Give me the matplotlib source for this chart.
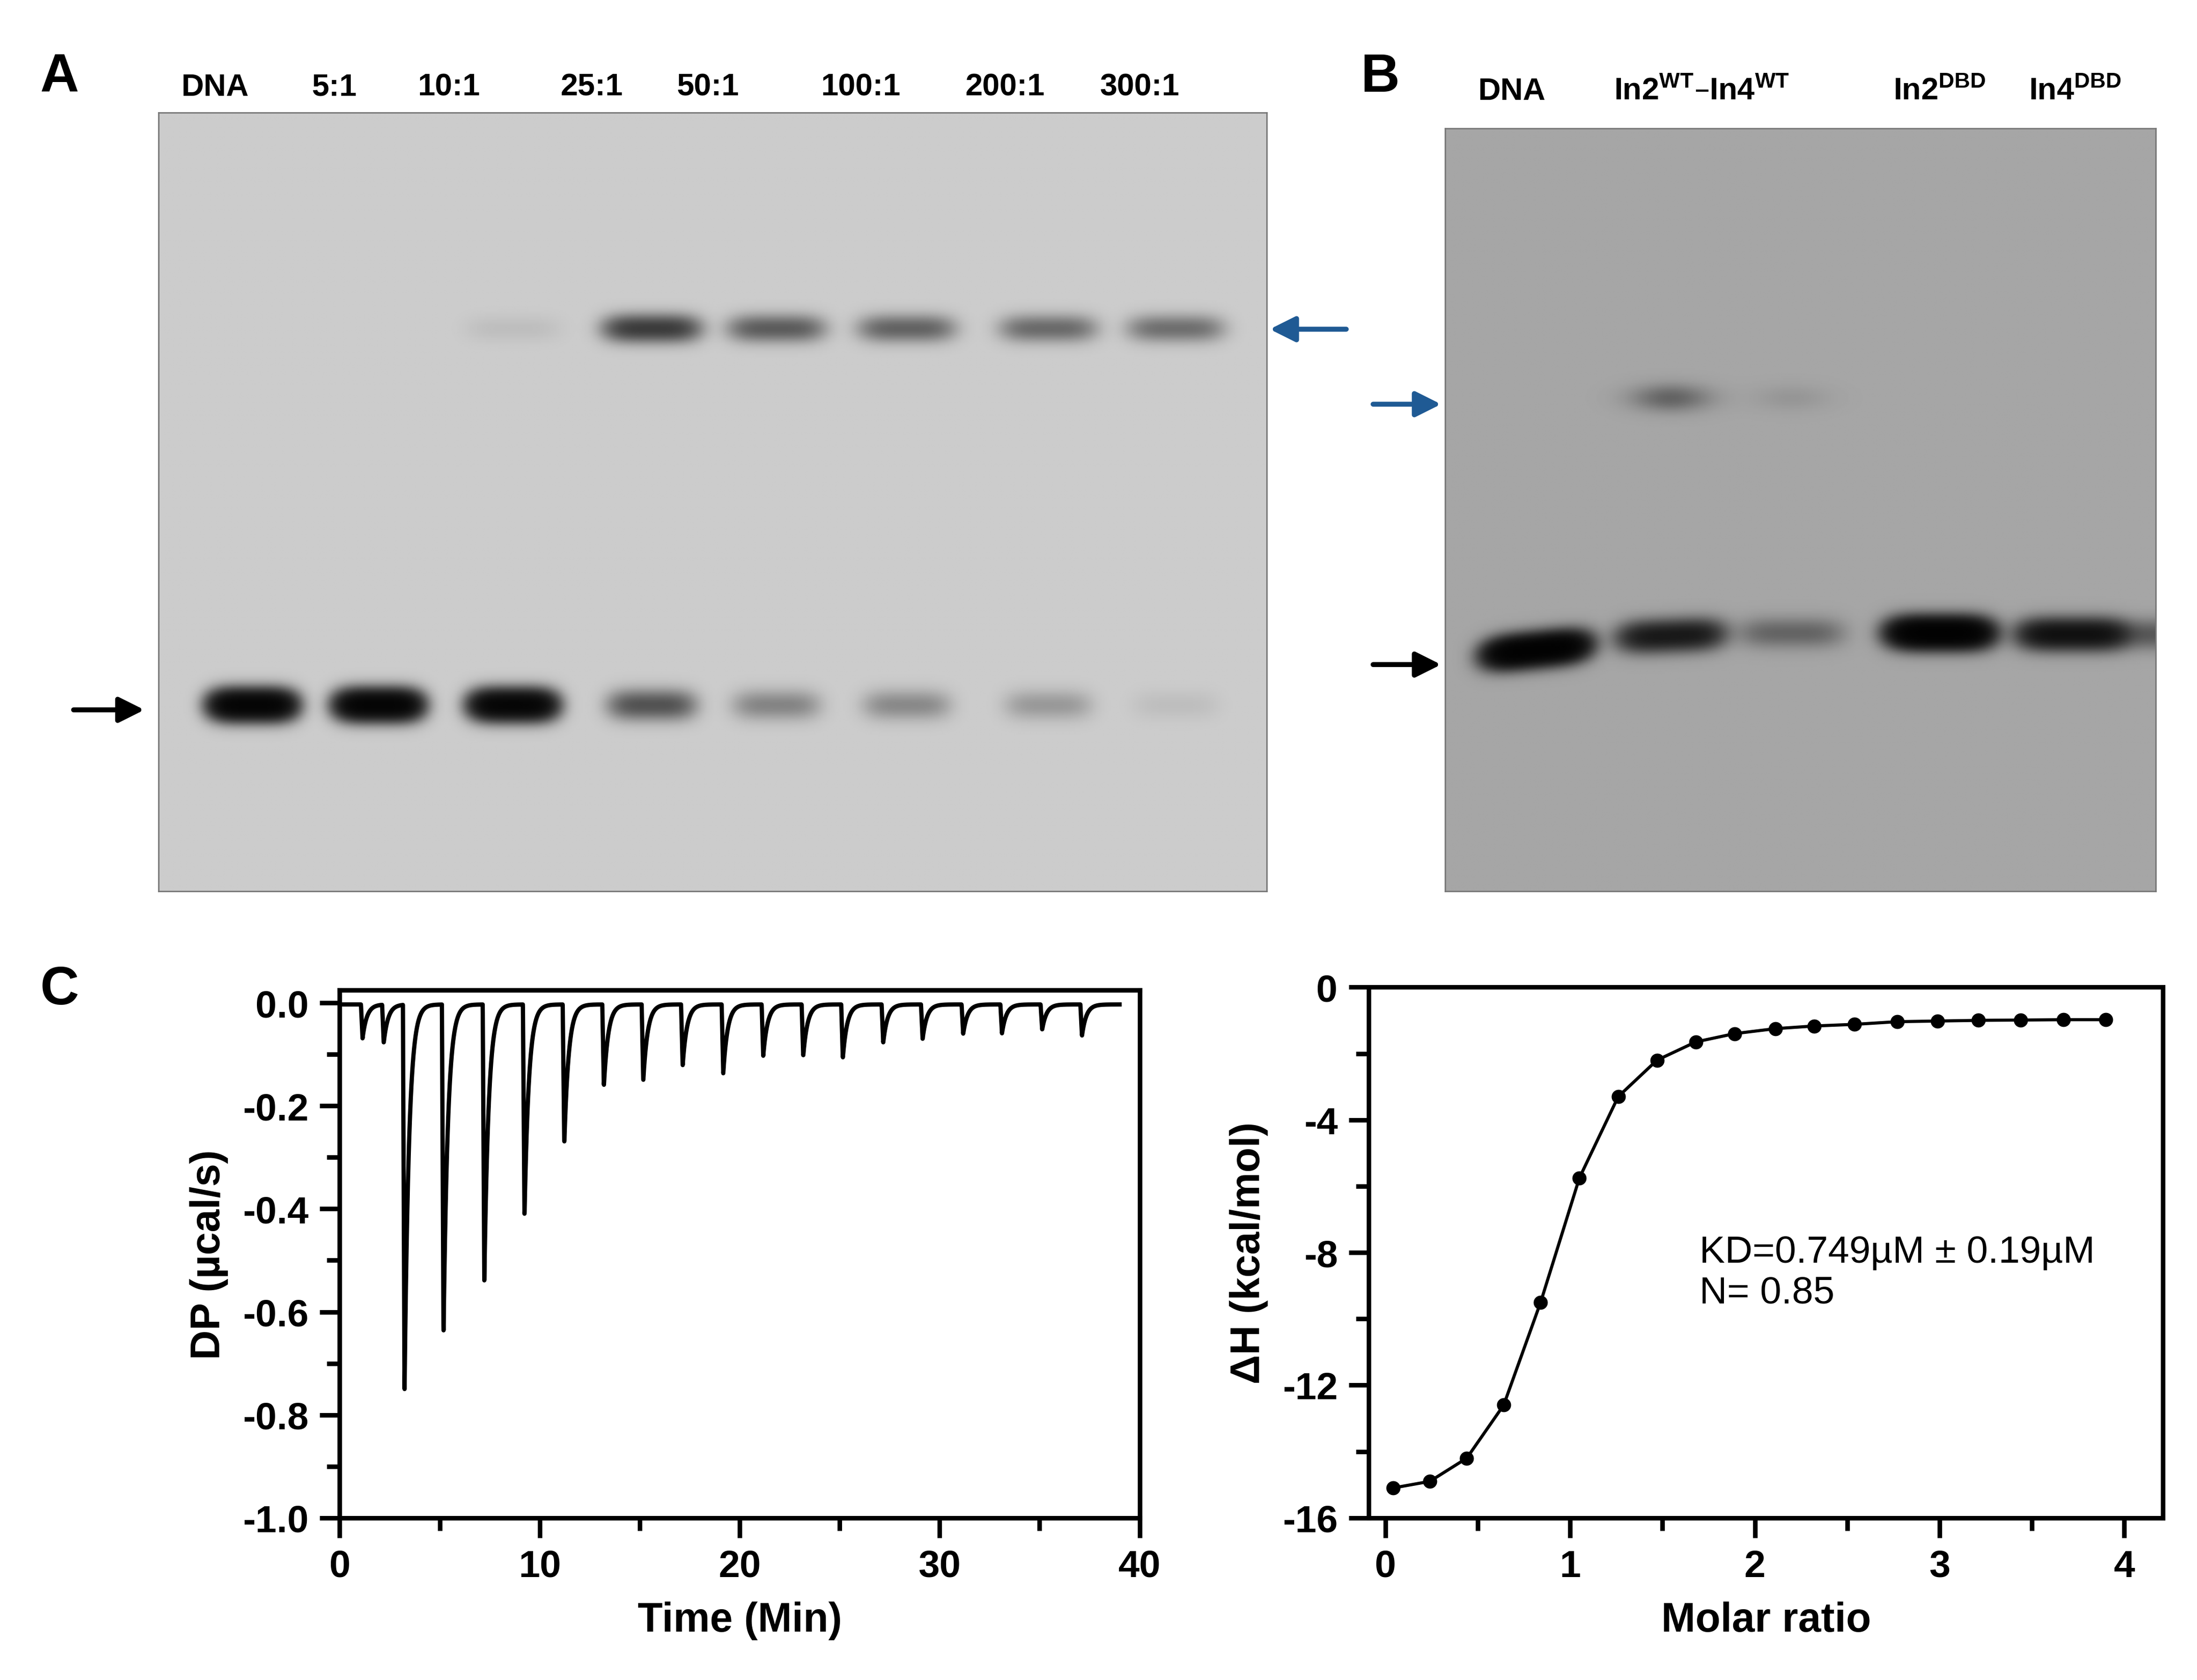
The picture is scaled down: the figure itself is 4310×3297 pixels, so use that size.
import numpy as np
import matplotlib
matplotlib.use("Agg")
import matplotlib.pyplot as plt
from matplotlib.ticker import MultipleLocator

plt.rcParams['font.family'] = ['Liberation Sans', 'DejaVu Sans']

# ---------------- data ----------------
# Gel A
gelA_lanes = ["DNA", "5:1", "10:1", "25:1", "50:1", "100:1", "200:1", "300:1"]
gelA_lane_x = [66, 155, 250, 348, 436, 528, 628, 718]          # lane centres (gel px)
gelA_free = [1.0, 1.0, 0.95, 0.25, 0.12, 0.11, 0.08, 0.02]      # free DNA intensity
gelA_complex = [0.0, 0.0, 0.05, 0.85, 0.55, 0.50, 0.45, 0.42]  # complex intensity
# Gel B
gelB_lanes = ["DNA", "In2$^{\\mathregular{WT}}$–In4$^{\\mathregular{WT}}$", "In2$^{\\mathregular{DBD}}$", "In4$^{\\mathregular{DBD}}$"]
gelB_band_x = [64, 159, 244, 349, 441, 502]
gelB_free = [1.0, 0.45, 0.12, 1.0, 0.55, 0.15]
gelB_complex = [0.0, 0.30, 0.06, 0.0, 0.0, 0.0]

# ITC raw
inj_time = [1.06, 2.12, 3.16, 5.11, 7.15, 9.16, 11.15, 13.13, 15.10, 17.07,
            19.10, 21.10, 23.10, 25.08, 27.10, 29.07, 31.10, 33.04, 35.05, 37.04]
inj_depth = [-0.066, -0.074, -0.754, -0.640, -0.537, -0.410, -0.270, -0.158, -0.148, -0.119,
             -0.134, -0.100, -0.100, -0.104, -0.074, -0.067, -0.057, -0.056, -0.049, -0.061]
# ITC integrated
molar_ratio = [0.04, 0.24, 0.44, 0.64, 0.84, 1.05, 1.26, 1.47, 1.68, 1.89,
               2.11, 2.32, 2.54, 2.77, 2.99, 3.21, 3.44, 3.67, 3.90]
dH = [-15.1, -14.9, -14.2, -12.6, -9.5, -5.75, -3.3, -2.2, -1.65, -1.4,
      -1.25, -1.17, -1.12, -1.04, -1.02, -1.0, -0.99, -0.98, -0.98]

W, H = 4310, 3298
S = W / 1552.0
fig = plt.figure(figsize=(W / 200, H / 200), dpi=200)

def fax(x0, y0, x1, y1):
    return fig.add_axes([x0 * S / W, 1 - y1 * S / H, (x1 - x0) * S / W, (y1 - y0) * S / H])

def gel_image(w, h, bg, lanes_x, free, comp, y_free, y_comp, sx, sy, dark, slant=None, csx=None):
    yy, xx = np.mgrid[0:h, 0:w].astype(float)
    dens = np.zeros((h, w))
    for i, (x, a, b) in enumerate(zip(lanes_x, free, comp)):
        yf = y_free if np.isscalar(y_free) else y_free[i]
        if a > 0:
            off = 0 if slant is None else slant[i] * (xx - x)
            g = np.exp(-(((xx - x) / sx) ** 4) - (((yy - yf - off) / sy) ** 2))
            dens += a * 3.0 * g
        if b > 0:
            cs = sx * 1.1 if csx is None else csx
            g = np.exp(-(((xx - x) / cs) ** 2 if csx else ((xx - x) / cs) ** 4) - (((yy - y_comp) / (sy * 0.9)) ** 2))
            dens += b * 1.2 * g
    img = bg * np.exp(-dens * dark)
    return np.clip(img, 0, 1)

# ---------------- Gel A ----------------
axA = fax(112, 80, 895, 630)
wA, hA = 783, 550
imgA = gel_image(wA, hA, 0.80, gelA_lane_x, gelA_free, gelA_complex,
                 418, 152, 30, 10, 1.2)
axA.imshow(imgA, cmap='gray', vmin=0, vmax=1, extent=[0, wA, hA, 0], aspect='auto')
axA.set_xlim(0, wA); axA.set_ylim(hA, 0)
axA.set_xticks([]); axA.set_yticks([])
for sp in axA.spines.values():
    sp.set_linewidth(1.0); sp.set_color('#777777')
lab_x = [152, 236, 317, 418, 500, 608, 710, 805]
for t, x in zip(gelA_lanes, lab_x):
    fig.text(x * S / W, 1 - 62 * S / H, t, ha='center', va='center', fontsize=22, fontweight='bold')

# ---------------- Gel B ----------------
axB = fax(1021, 91, 1523, 630)
wB, hB = 502, 539
yfreeB = [368, 358, 356, 356, 357, 357]
imgB = gel_image(wB, hB, 0.65, gelB_band_x, gelB_free, gelB_complex,
                 yfreeB, 190, 36, 10, 1.4, slant=[-0.10, -0.04, 0, 0, 0, 0], csx=26)
axB.imshow(imgB, cmap='gray', vmin=0, vmax=1, extent=[0, wB, hB, 0], aspect='auto')
axB.set_xlim(0, wB); axB.set_ylim(hB, 0)
axB.set_xticks([]); axB.set_yticks([])
for sp in axB.spines.values():
    sp.set_linewidth(1.0); sp.set_color('#777777')
labB_x = [1068, 1202, 1370, 1466]
for t, x in zip(gelB_lanes, labB_x):
    fig.text(x * S / W, 1 - 65 * S / H, t, ha='center', va='center', fontsize=22, fontweight='bold')

# arrows
def arrow(x0, x1, y, color):
    fig.add_artist(matplotlib.patches.FancyArrowPatch(
        (x0 * S / W, 1 - y * S / H), (x1 * S / W, 1 - y * S / H),
        transform=fig.transFigure, arrowstyle='-|>,head_length=6,head_width=3',
        mutation_scale=2.5, color=color, lw=3.5))
arrow(50, 104, 502, 'black')
arrow(953, 895, 233, '#1f5a94')
arrow(968, 1020, 286, '#1f5a94')
arrow(968, 1020, 470, 'black')

# panel letters
for t, x, y in [("A", 42, 55), ("B", 975, 55), ("C", 42, 700)]:
    fig.text(x * S / W, 1 - y * S / H, t, ha='center', va='center', fontsize=38, fontweight='bold')

# ---------------- ITC raw ----------------
def style(ax):
    for sp in ax.spines.values():
        sp.set_linewidth(3.2)
    ax.tick_params(which='major', direction='out', length=14, width=3.2, labelsize=27, pad=8)
    ax.tick_params(which='minor', direction='out', length=9, width=3.2)
    for lab in ax.get_xticklabels() + ax.get_yticklabels():
        lab.set_fontweight('bold')

axC = fax(240, 700, 805, 1073)
t = np.linspace(0, 39, 8000)
dp = np.full_like(t, -0.003)
for ti, d in zip(inj_time, inj_depth):
    m1 = (t >= ti) & (t < ti + 0.08)
    dp[m1] += d * (t[m1] - ti) / 0.08
    m2 = t >= ti + 0.08
    dp[m2] += d * np.exp(-(t[m2] - ti - 0.08) / 0.22)
axC.plot(t, dp, color='black', lw=3.0)
axC.set_xlim(0, 40); axC.set_ylim(-1.0, 0.025)
axC.xaxis.set_major_locator(MultipleLocator(10)); axC.xaxis.set_minor_locator(MultipleLocator(5))
axC.yaxis.set_minor_locator(MultipleLocator(0.1))
axC.set_yticks([0, -0.2, -0.4, -0.6, -0.8, -1.0])
axC.set_yticklabels(["0.0", "-0.2", "-0.4", "-0.6", "-0.8", "-1.0"])
axC.set_xlabel("Time (Min)", fontsize=29, fontweight='bold', labelpad=12)
axC.set_ylabel("DP (µcal/s)", fontsize=29, fontweight='bold', labelpad=10)
style(axC)

# ---------------- ITC integrated ----------------
axD = fax(967, 698, 1528, 1073)
axD.plot(molar_ratio, dH, color='black', lw=2.2, marker='o', ms=9)
axD.set_xlim(-0.09, 4.21); axD.set_ylim(-16, 0)
axD.xaxis.set_major_locator(MultipleLocator(1)); axD.xaxis.set_minor_locator(MultipleLocator(0.5))
axD.set_yticks([0, -4, -8, -12, -16]); axD.set_yticklabels(["0", "-4", "-8", "-12", "-16"])
axD.yaxis.set_minor_locator(MultipleLocator(2))
axD.set_xlabel("Molar ratio", fontsize=29, fontweight='bold', labelpad=12)
axD.set_ylabel("ΔH (kcal/mol)", fontsize=29, fontweight='bold', labelpad=10)
style(axD)
axD.text(1.7, -8.6, "KD=0.749µM ± 0.19µM\nN= 0.85", fontsize=27, va='center', ha='left', linespacing=1.2)

fig.savefig("out.png", dpi=200, facecolor='white')
